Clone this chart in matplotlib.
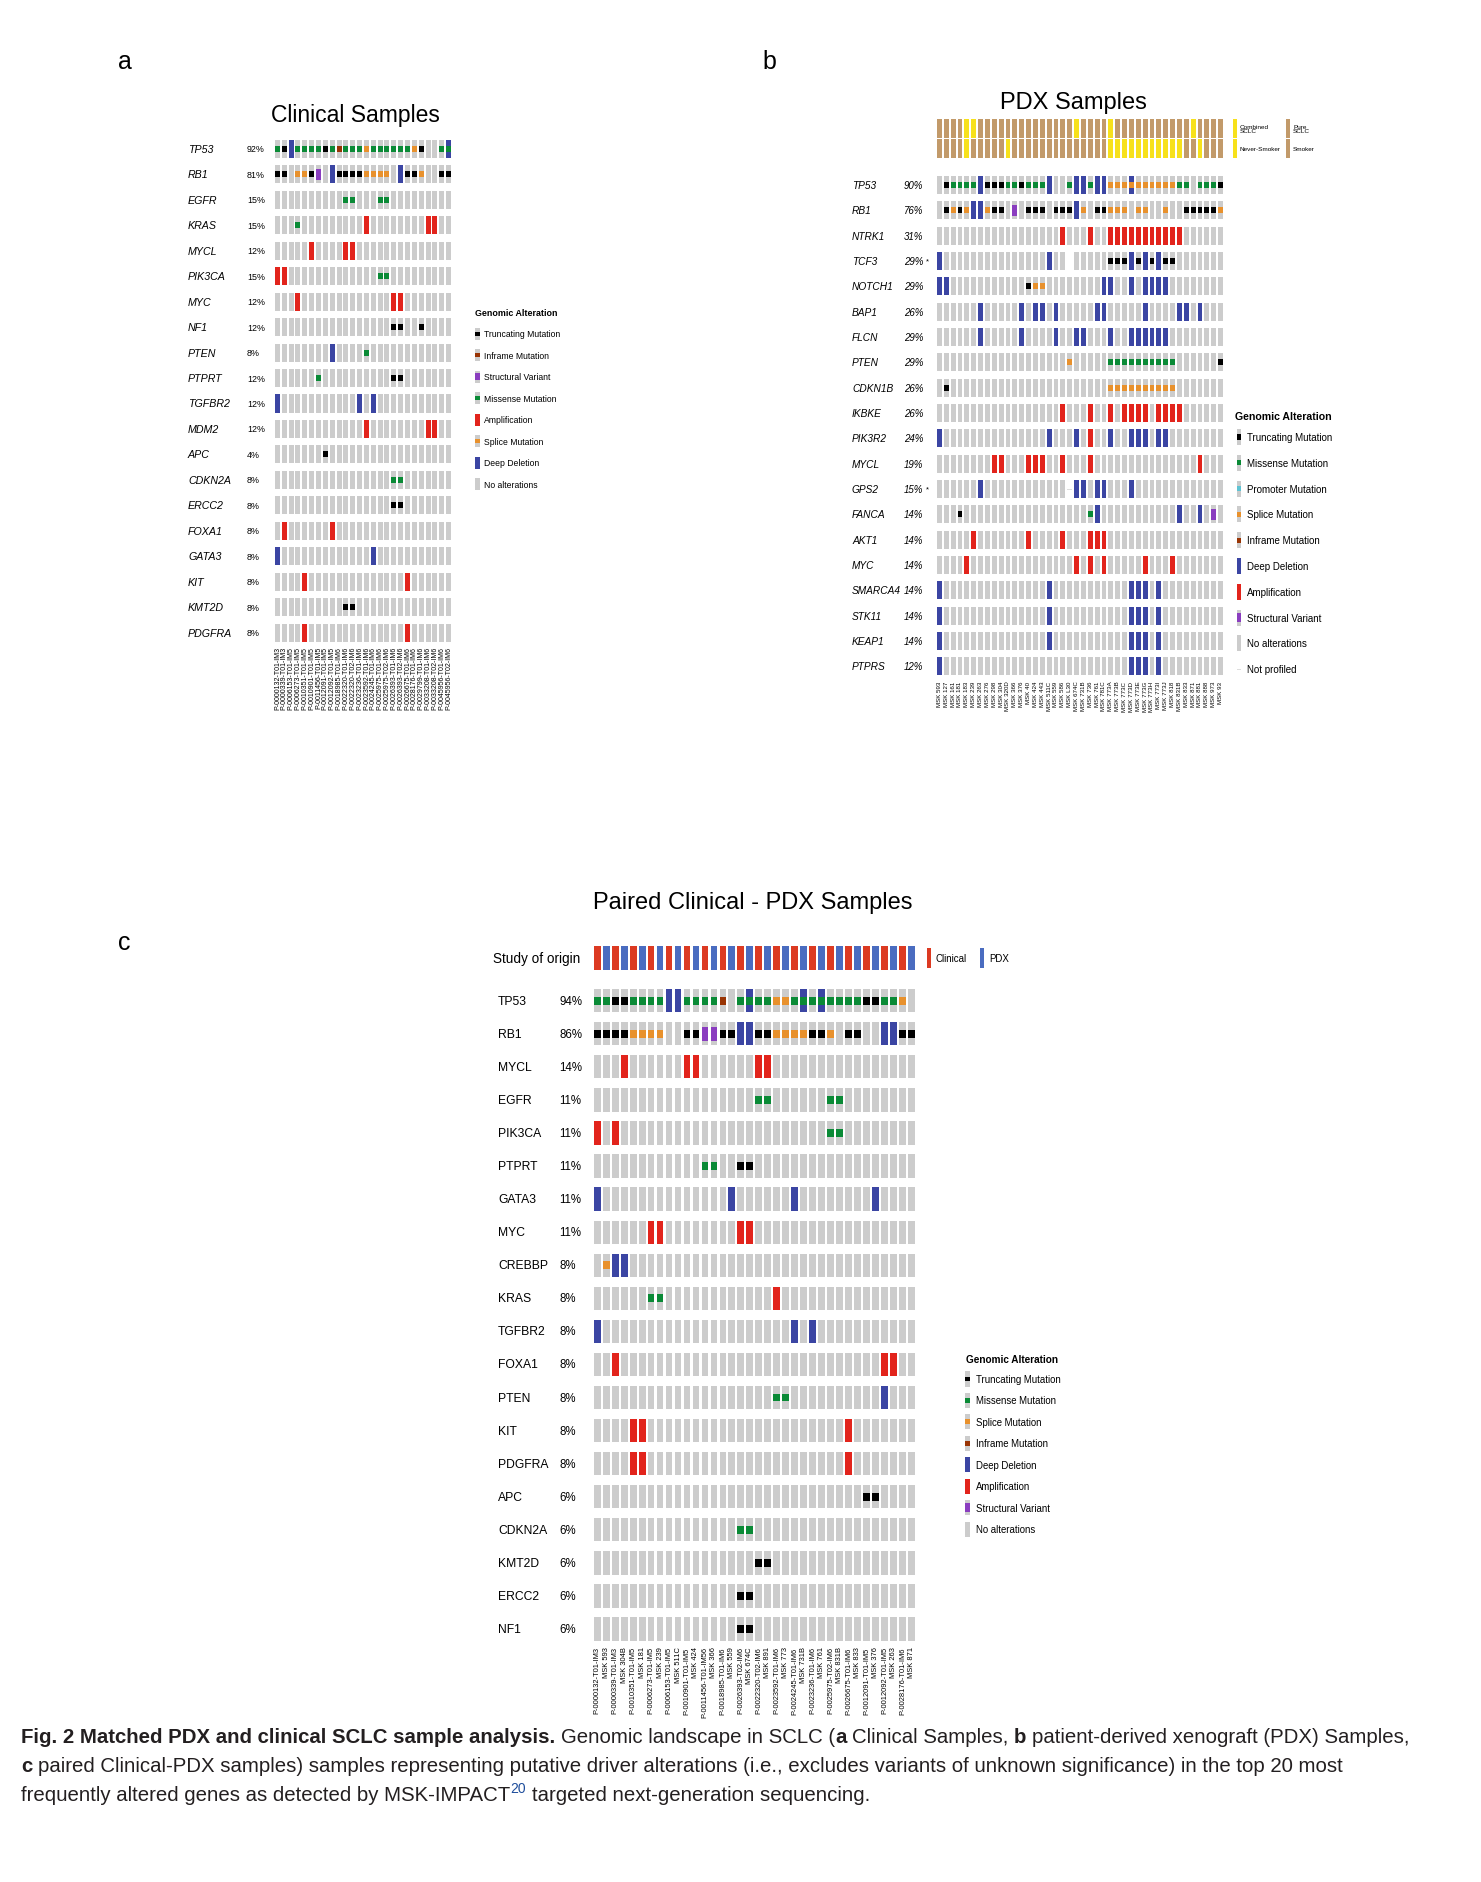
import numpy as np
import matplotlib
matplotlib.use("Agg")
import matplotlib.pyplot as plt
from matplotlib import font_manager
from matplotlib.transforms import blended_transform_factory

W, H = 1481, 1883
plt.rcParams['font.family'] = ['Liberation Sans', 'DejaVu Sans']

# ---------------- data ----------------
# one character per sample:
# . none, T truncating, M missense, I inframe, S splice, P promoter,
# A amplification, D deep deletion, V structural variant, - not profiled
# m / s / t = deep deletion plus missense / splice / truncating
A_SAMPLES = ["P-0000132-T01-IM3", "P-0000339-T01-IM3", "P-0006153-T01-IM5", "P-0006273-T01-IM5",
             "P-0010351-T01-IM5", "P-0010901-T01-IM5", "P-0011456-T01-IM5", "P-0012091-T01-IM5",
             "P-0012092-T01-IM5", "P-0018985-T01-IM6", "P-0022320-T01-IM6", "P-0022320-T02-IM6",
             "P-0023236-T01-IM6", "P-0023592-T01-IM6", "P-0024245-T01-IM6", "P-0025975-T01-IM6",
             "P-0025975-T02-IM6", "P-0026393-T01-IM6", "P-0026393-T02-IM6", "P-0026675-T01-IM6",
             "P-0028176-T01-IM6", "P-0029799-T01-IM6", "P-0033208-T01-IM6", "P-0033208-T02-IM6",
             "P-0045956-T01-IM6", "P-0045956-T02-IM6"]
A_GENES = ["TP53", "RB1", "EGFR", "KRAS", "MYCL", "PIK3CA", "MYC", "NF1", "PTEN", "PTPRT",
           "TGFBR2", "MDM2", "APC", "CDKN2A", "ERCC2", "FOXA1", "GATA3", "KIT", "KMT2D", "PDGFRA"]
A_PCT = ["92%", "81%", "15%", "15%", "12%", "15%", "12%", "12%", "8%", "12%",
         "12%", "12%", "4%", "8%", "8%", "8%", "8%", "8%", "8%", "8%"]
A_ALT = [
    "MTDMMMMTMI" "MMMSMMMMMM" "ST..Mm",
    "TT.SSTV.DT" "TTTSSSS.DT" "TS..TT",
    ".........." "MM...MM..." "......",
    "...M......" "...A......" "..AA..",
    ".....A...." "AA........" "......",
    "AA........" ".....MM..." "......",
    "...A......" ".......AA." "......",
    ".........." ".......TT." ".T....",
    "........D." "...M......" "......",
    "......M..." ".......TT." "......",
    "D........." "..D.D....." "......",
    ".........." "...A......" "..AA..",
    ".......T.." ".........." "......",
    ".........." ".......MM." "......",
    ".........." ".......TT." "......",
    ".A......A." ".........." "......",
    "D........." "....D....." "......",
    "....A....." ".........A" "......",
    ".........." "TT........" "......",
    "....A....." ".........A" "......",
]

B_SAMPLES = ["MSK 593", "MSK 127", "MSK 161", "MSK 181", "MSK 183", "MSK 239", "MSK 263", "MSK 276",
             "MSK 298", "MSK 304", "MSK 320D", "MSK 366", "MSK 376", "MSK 40", "MSK 424", "MSK 443",
             "MSK 511C", "MSK 559", "MSK 586", "MSK L30", "MSK 674C", "MSK 731B", "MSK 736", "MSK 761",
             "MSK 781C", "MSK 773A", "MSK 773B", "MSK 773C", "MSK 773D", "MSK 773E", "MSK 773G",
             "MSK 773H", "MSK 773I", "MSK 773J", "MSK 818", "MSK 831B", "MSK 833", "MSK 871",
             "MSK 881", "MSK 888", "MSK 973", "MSK 93"]
B_GENES = ["TP53", "RB1", "NTRK1", "TCF3", "NOTCH1", "BAP1", "FLCN", "PTEN", "CDKN1B", "IKBKE",
           "PIK3R2", "MYCL", "GPS2", "FANCA", "AKT1", "MYC", "SMARCA4", "STK11", "KEAP1", "PTPRS"]
B_PCT = ["90%", "76%", "31%", "29%", "29%", "26%", "29%", "29%", "26%", "26%",
         "24%", "19%", "15%", "14%", "14%", "14%", "14%", "14%", "14%", "12%"]
B_STAR = ["", "", "", "*", "", "", "", "", "", "", "", "", "*", "", "", "", "", "", "", ""]
B_ALT = [
    ".TMMMMDTTT" "MMTMMMD..M" "DDMDDSSSsS" "SSSSSMM.MM" "MT",
    ".TSTSDDSTT" ".V.TTT.TTT" "DS.TTSSS.S" "S..S..TTTT" "TS",
    ".........." "........A." "..A..AAAAA" "AAAAAA...." "..",
    "D........." "......D..-" ".....TTTDT" "DTDTT....." "..",
    "DD........" "...TSS...." "....DD..D." "DDDD......" "..",
    "......D..." "..D.DD.D.." "...DD....." "D....DD.D." "..",
    "......D..." "..D....D.." "DD...D..DD" "DDDD......" "..",
    ".........." ".........S" ".....MMMMM" "MMMMM....." ".T",
    ".T........" ".........." ".....SSSSS" "SSSSS....." "..",
    ".........." "........A." "..A..A.AAA" "A.AAAA...." "..",
    "D........." "......D..." "D.A..D..DD" "D.DD......" "..",
    "........AA" "...AAA..A." "..A......." "........A." "..",
    "......D..." ".........-" "DD.DD...D." ".........." "..",
    "...T......" ".........." "..MD......" ".....D..D." "V.",
    ".....A...." "...A....A." "..AAA....." ".........." "..",
    "....A....." ".........." "A.A.A....." "A...A....." "..",
    "D........." "......D..." "........DD" "D.D......." "..",
    "D........." "......D..." "........DD" "D.D......." "..",
    "D........." "......D..." "........DD" "D.D......." "..",
    "D........." ".........." "........DD" "D.D......." "..",
]
# C = combined SCLC, P = pure SCLC ; N = never-smoker, S = smoker
B_SUBTYPE = "PPPPCCPPPP" "PPPPPPPPPP" "CPPPPCPPPP" "PPPPPPPCPP" "PP"
B_SMOKING = "SSSSNSSSSS" "NSSSSSSSSS" "SSSSSNNNNN" "NNNNNNSSNS" "SS"

C_SAMPLES = ["P-0000132-T01-IM3", "MSK 593", "P-0000339-T01-IM3", "MSK 304B", "P-0010351-T01-IM5",
             "MSK 181", "P-0006273-T01-IM5", "MSK 239", "P-0006153-T01-IM5", "MSK 511C",
             "P-0010901-T01-IM5", "MSK 424", "P-0011456-T01-IM56", "MSK 366", "P-0018985-T01-IM6",
             "MSK 559", "P-0026393-T02-IM6", "MSK 674C", "P-0022320-T02-IM6", "MSK 891",
             "P-0023592-T01-IM6", "MSK 773", "P-0024245-T01-IM6", "MSK 731B", "P-0023236-T01-IM6",
             "MSK 761", "P-0025975-T02-IM6", "MSK 831B", "P-0026675-T01-IM6", "MSK 833",
             "P-0012091-T01-IM5", "MSK 376", "P-0012092-T01-IM5", "MSK 263", "P-0028176-T01-IM6",
             "MSK 871"]
C_ORIGIN = "CP" * 18
C_GENES = ["TP53", "RB1", "MYCL", "EGFR", "PIK3CA", "PTPRT", "GATA3", "MYC", "CREBBP", "KRAS",
           "TGFBR2", "FOXA1", "PTEN", "KIT", "PDGFRA", "APC", "CDKN2A", "KMT2D", "ERCC2", "NF1"]
C_PCT = ["94%", "86%", "14%", "11%", "11%", "11%", "11%", "11%", "8%", "8%",
         "8%", "8%", "8%", "8%", "8%", "6%", "6%", "6%", "6%", "6%"]
C_ALT = [
    "MMTTMMMMDD" "MMMMI.MmMM" "SSMmMmMMMM" "TTMMS.",
    "TTTTSSSS.." "TTVVTTDDTT" "SSSSTTS.TT" "..DDTT",
    "...A......" "AA......AA" ".........." "......",
    ".........." "........MM" "......MM.." "......",
    "A.A......." ".........." "......MM.." "......",
    ".........." "..MM..TT.." ".........." "......",
    "D........." ".....D...." "..D......." ".D....",
    "......AA.." "......AA.." ".........." "......",
    ".SDD......" ".........." ".........." "......",
    "......MM.." ".........." "A........." "......",
    "D........." ".........." "..D.D....." "......",
    "..A......." ".........." ".........." "..AA..",
    ".........." ".........." "MM........" "..D...",
    "....AA...." ".........." "........A." "......",
    "....AA...." ".........." "........A." "......",
    ".........." ".........." ".........." "TT....",
    ".........." "......MM.." ".........." "......",
    ".........." "........TT" ".........." "......",
    ".........." "......TT.." ".........." "......",
    ".........." "......TT.." ".........." "......",
]

LEG_A = [("T", "Truncating Mutation"), ("I", "Inframe Mutation"), ("V", "Structural Variant"),
         ("M", "Missense Mutation"), ("A", "Amplification"), ("S", "Splice Mutation"),
         ("D", "Deep Deletion"), (".", "No alterations")]
LEG_B = [("T", "Truncating Mutation"), ("M", "Missense Mutation"), ("P", "Promoter Mutation"),
         ("S", "Splice Mutation"), ("I", "Inframe Mutation"), ("D", "Deep Deletion"),
         ("A", "Amplification"), ("V", "Structural Variant"), (".", "No alterations"),
         ("-", "Not profiled")]
LEG_C = [("T", "Truncating Mutation"), ("M", "Missense Mutation"), ("S", "Splice Mutation"),
         ("I", "Inframe Mutation"), ("D", "Deep Deletion"), ("A", "Amplification"),
         ("V", "Structural Variant"), (".", "No alterations")]

# ---------------- style ----------------
GRAY = '#cccccc'
COLORS = {'T': '#000000', 'M': '#0a8a36', 'I': '#993404', 'S': '#e8912d',
          'P': '#5ec3d3', 'A': '#e2241c', 'D': '#3b45a3', 'V': '#8a3dbf'}
COMBO = {'m': 'DM', 's': 'DS', 't': 'DT'}
GLYPH = [('A', 1.0), ('D', 1.0), ('V', 0.6), ('T', 0.33), ('M', 0.33),
         ('I', 0.33), ('S', 0.33), ('P', 0.33)]
TAN, YELLOW = '#c29a6a', '#f7e11b'
ANNO = {'C': YELLOW, 'P': TAN, 'N': YELLOW, 'S': TAN}
ORIGIN = {'C': '#dc3a22', 'P': '#4a6cc0'}

fig = plt.figure(figsize=(W / 100, H / 100), dpi=100)
fig.patch.set_facecolor('white')
renderer = fig.canvas.get_renderer()


def px_axes(x0, y0, x1, y1):
    ax = fig.add_axes([x0 / W, 1 - y1 / H, (x1 - x0) / W, (y1 - y0) / H])
    ax.set_facecolor('none')
    for s in ax.spines.values():
        s.set_visible(False)
    ax.set_yticks([])
    ax.set_xticks([])
    ax.tick_params(length=0)
    return ax


def draw_cells(ax, rows, cw, ch):
    n = len(rows[0])
    for r, row in enumerate(rows):
        prof = [i for i, c in enumerate(row) if c != '-']
        if prof:
            ax.bar(prof, ch, cw, bottom=r - ch / 2, color=GRAY, linewidth=0)
        miss = [i for i, c in enumerate(row) if c == '-']
        if miss:
            ax.bar(miss, ch * 0.05, cw * 0.9, bottom=r - ch * 0.025, color='#dddddd', linewidth=0)
        for kind, frac in GLYPH:
            xs = [i for i, c in enumerate(row) if kind in COMBO.get(c, c)]
            if xs:
                ax.bar(xs, ch * frac, cw, bottom=r - ch * frac / 2,
                       color=COLORS[kind], linewidth=0)
    ax.set_xlim(-0.5, n - 0.5)
    ax.set_ylim(len(rows) - 0.5, -0.5)


def row_labels(ax, x_px, labels, **kw):
    tr = blended_transform_factory(fig.transFigure, ax.transData)
    for r, lab in enumerate(labels):
        ax.text(x_px / W, r, lab, transform=tr, ha='left', va='center', **kw)


def oncoprint(x0, x1, c0, pitch, rows, cw, ch, samples, lsize, pad):
    ax = px_axes(x0, c0 - pitch / 2, x1, c0 - pitch / 2 + len(rows) * pitch)
    draw_cells(ax, rows, cw, ch)
    ax.set_xticks(range(len(samples)))
    ax.set_xticklabels(samples, rotation=90, fontsize=lsize)
    ax.tick_params(axis='x', length=0, pad=pad)
    return ax


def legend(x_sw, c0, pitch, items, ch, text_x, size, title_xy, title_size):
    ax = px_axes(x_sw - 3, c0 - pitch / 2, x_sw + 3, c0 - pitch / 2 + len(items) * pitch)
    draw_cells(ax, [code for code, _ in items], 0.75, ch)
    row_labels(ax, text_x, [name for _, name in items], fontsize=size)
    fig.text(title_xy[0] / W, 1 - title_xy[1] / H, "Genomic Alteration", weight='bold',
             fontsize=title_size, ha='left', va='center')


def ftext(x, y, s, **kw):
    return fig.text(x / W, 1 - y / H, s, **kw)


# ---------------- panel a ----------------
ftext(125, 62, "a", fontsize=18, ha='center', va='center')
ftext(355, 116, "Clinical Samples", fontsize=16.5, ha='center', va='center')
ax_a = oncoprint(274, 452, 150, 25.45, A_ALT, 0.72, 0.71, A_SAMPLES, 5.0, 0.5)
row_labels(ax_a, 188, A_GENES, fontsize=7.7, style='italic')
row_labels(ax_a, 247, A_PCT, fontsize=6.4)
legend(477.5, 335, 21.43, LEG_A, 0.56, 484, 6.2, (475, 314), 6.4)

# ---------------- panel b ----------------
ftext(769, 62, "b", fontsize=18, ha='center', va='center')
ftext(1073, 103, "PDX Samples", fontsize=17, ha='center', va='center')
ax_ann = px_axes(936, 119.5, 1224, 159.5)
for r, row in enumerate([B_SUBTYPE, B_SMOKING]):
    ax_ann.bar(range(len(row)), 0.92, 0.72, bottom=r - 0.46,
               color=[ANNO[c] for c in row], linewidth=0)
ax_ann.set_xlim(-0.5, len(B_SUBTYPE) - 0.5)
ax_ann.set_ylim(1.5, -0.5)
for x_sw, keys, names in [(1235, "CN", ["Combined\nSCLC", "Never-Smoker"]),
                          (1288, "PS", ["Pure\nSCLC", "Smoker"])]:
    ax_k = px_axes(x_sw - 3, 119.5, x_sw + 3, 159.5)
    ax_k.bar([0, 0], 0.92, 0.75, bottom=[-0.46, 0.54], color=[ANNO[k] for k in keys], linewidth=0)
    ax_k.set_xlim(-0.5, 0.5)
    ax_k.set_ylim(1.5, -0.5)
    row_labels(ax_k, x_sw + 5, names, fontsize=4.6, linespacing=0.95)

ax_b = oncoprint(936, 1224, 186, 25.34, B_ALT, 0.72, 0.71, B_SAMPLES, 4.4, 1.0)
row_labels(ax_b, 852, B_GENES, fontsize=7.3, style='italic')
row_labels(ax_b, 904, B_PCT, fontsize=7.0, style='italic')
row_labels(ax_b, 926, B_STAR, fontsize=5.5)
legend(1239, 438, 25.8, LEG_B, 0.62, 1247, 7.0, (1235, 417), 7.6)

# ---------------- panel c ----------------
ftext(124, 943, "c", fontsize=18, ha='center', va='center')
ftext(753, 903, "Paired Clinical - PDX Samples", fontsize=17, ha='center', va='center')
ax_o = px_axes(592.7, 946.7, 916, 970.7)
ax_o.bar(range(len(C_ORIGIN)), 1.0, 0.76, bottom=-0.5,
         color=[ORIGIN[c] for c in C_ORIGIN], linewidth=0)
ax_o.set_xlim(-0.5, len(C_ORIGIN) - 0.5)
ax_o.set_ylim(0.5, -0.5)
row_labels(ax_o, 493, ["Study of origin"], fontsize=9.8)
for x_sw, key, name in [(929, 'C', "Clinical"), (982, 'P', "PDX")]:
    ax_k = px_axes(x_sw - 3, 946.7, x_sw + 3, 970.7)
    ax_k.bar([0], 0.85, 0.8, bottom=-0.425, color=ORIGIN[key], linewidth=0)
    ax_k.set_xlim(-0.5, 0.5)
    ax_k.set_ylim(0.5, -0.5)
    row_labels(ax_k, x_sw + 7, [name], fontsize=7.0)

ax_c = oncoprint(592.7, 916, 1001.7, 33.07, C_ALT, 0.76, 0.705, C_SAMPLES, 5.4, 0.5)
row_labels(ax_c, 498, C_GENES, fontsize=8.7)
row_labels(ax_c, 559, C_PCT, fontsize=8.3)
legend(967.5, 1380, 21.43, LEG_C, 0.7, 976, 6.9, (966, 1360), 7.2)

# ---------------- caption ----------------
def has_font(name):
    try:
        font_manager.findfont(font_manager.FontProperties(family=name), fallback_to_default=False)
        return True
    except ValueError:
        return False


CAP_FONT = 'Liberation Sans Narrow' if has_font('Liberation Sans Narrow') else 'Liberation Sans'
CAP_COLOR = '#231f20'
CAPTION = [
    [("Fig. 2 Matched PDX and clinical SCLC sample analysis.", 'bold', False),
     (" Genomic landscape in SCLC (", 'normal', False), ("a", 'bold', False),
     (" Clinical Samples, ", 'normal', False), ("b", 'bold', False),
     (" patient-derived xenograft (PDX) Samples,", 'normal', False)],
    [("c", 'bold', False),
     (" paired Clinical-PDX samples) samples representing putative driver alterations "
      "(i.e., excludes variants of unknown significance) in the top 20 most", 'normal', False)],
    [("frequently altered genes as detected by MSK-IMPACT", 'normal', False),
     ("20", 'normal', True), (" targeted next-generation sequencing.", 'normal', False)],
]
CAP_Y = [1743, 1772, 1801]


def text_width(s, size, weight):
    t = fig.text(0, 0, s, fontsize=size, weight=weight, family=CAP_FONT)
    w = t.get_window_extent(renderer).width
    t.remove()
    return w


def draw_line(y, runs, size, draw=True):
    # each run drawn whole; spaces at run edges added by hand
    x = 21.0
    made = []
    for text, weight, sup in runs:
        fs = size * 0.68 if sup else size
        sp = text_width("n n", fs, weight) - text_width("nn", fs, weight)
        body = text.strip(' ')
        if text.startswith(' '):
            x += sp
        yy = y - size * 0.55 if sup else y
        t = fig.text(x / W, 1 - yy / H, body, fontsize=fs, weight=weight, family=CAP_FONT,
                     color='#1f4e9c' if sup else CAP_COLOR, va='baseline', ha='left')
        x += t.get_window_extent(renderer).width
        made.append(t)
        if text.endswith(' '):
            x += sp
    if not draw:
        for t in made:
            t.remove()
    return x


size = 14.0
end = draw_line(CAP_Y[0], CAPTION[0], size, draw=False)
size = size * (1418 - 21) / (end - 21)
for y, runs in zip(CAP_Y, CAPTION):
    draw_line(y, runs, size)

fig.savefig("out.png", dpi=100)
